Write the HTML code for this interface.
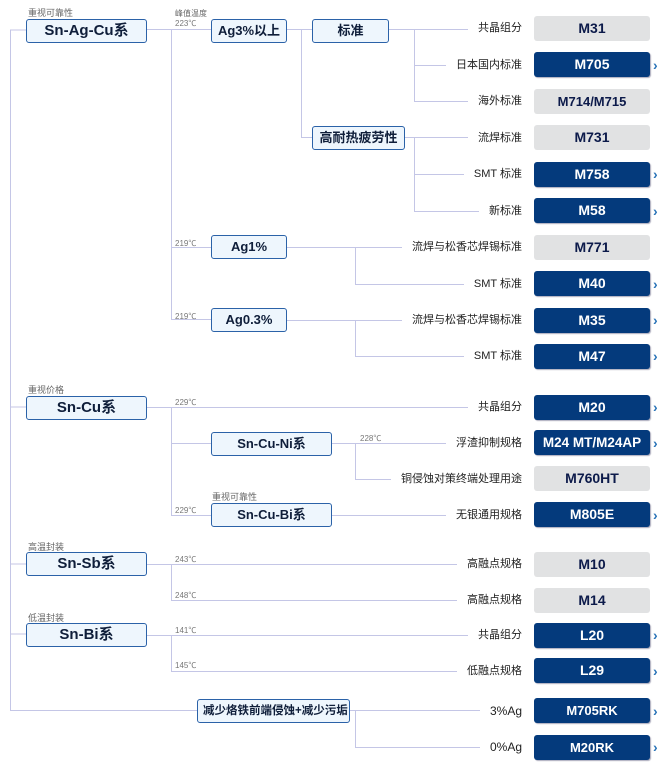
<!DOCTYPE html>
<html><head><meta charset="utf-8"><style>
body{margin:0;width:661px;height:766px;background:#fff;position:relative;overflow:hidden;font-family:"Liberation Sans","Noto Sans CJK SC",sans-serif}
.n{position:absolute;box-sizing:border-box;height:24px;border:1px solid #2b62a8;border-radius:3px;background:#eef6fd;color:#0f1e3a;font-weight:bold;text-align:center;line-height:22px;font-size:13px}
.big{font-size:15px}
.s{position:absolute;font-size:9px;color:#666;white-space:nowrap}
.t{position:absolute;font-size:8px;color:#777;white-space:nowrap}
.l{position:absolute;right:139px;font-size:11px;color:#222;background:#fff;padding-left:10px;line-height:14px;white-space:nowrap}
.p{position:absolute;left:534px;width:116px;height:25px;border-radius:3px;text-align:center;line-height:25px;font-weight:bold;font-size:14px;box-sizing:border-box}
.d{background:#043a7c;color:#fff;box-shadow:1px 1px 1px #aab}
.g{background:#e1e2e3;color:#0c1a4a}
.a{position:absolute;left:653px;color:#2a74b8;font-size:14px;font-weight:bold;line-height:14px}
</style></head><body>
<svg width="661" height="766" style="position:absolute;left:0;top:0" stroke="#c4c6e6" stroke-width="1" fill="none">
<path d="M10.5 30V711M10 30H26M10 407H26M10 564H26M10 634H26M10 710.5H197"/>
<path d="M147 29.5H211M171.5 29.5V320M171 247.5H211M171 319.5H211"/>
<path d="M287 29.5H312M301.5 29.5V137M301 137.5H312"/>
<path d="M389 29.5H522M414.5 29.5V101M414 65.5H522M414 101.5H522"/>
<path d="M405 137.5H522M414.5 137.5V211M414 174.5H522M414 211.5H522"/>
<path d="M287 247.5H522M355.5 247.5V284M355 284.5H522"/>
<path d="M287 320.5H522M355.5 320.5V356M355 356.5H522"/>
<path d="M147 407.5H522M171.5 407.5V515M171 443.5H211M171 515.5H211"/>
<path d="M332 443.5H522M355.5 443.5V479M355 479.5H522M332 515.5H522"/>
<path d="M147 564.5H522M171.5 564.5V600M171 600.5H522"/>
<path d="M147 635.5H522M171.5 635.5V671M171 671.5H522"/>
<path d="M350 710.5H522M355.5 710.5V747M355 747.5H522"/>
</svg>
<div class="s" style="left:28px;top:6px">重视可靠性</div>
<div class="n big" style="left:26px;top:19px;width:121px">Sn-Ag-Cu系</div>
<div class="s" style="left:28px;top:383px">重视价格</div>
<div class="n big" style="left:26px;top:396px;width:121px">Sn-Cu系</div>
<div class="s" style="left:28px;top:540px">高温封装</div>
<div class="n big" style="left:26px;top:552px;width:121px">Sn-Sb系</div>
<div class="s" style="left:28px;top:611px">低温封装</div>
<div class="n big" style="left:26px;top:623px;width:121px">Sn-Bi系</div>
<div class="n" style="left:197px;top:699px;width:153px;font-size:11.5px;text-align:left;padding-left:5px">减少烙铁前端侵蚀+减少污垢</div>

<div class="s" style="left:175px;top:8px;font-size:8px">峰值温度</div>
<div class="t" style="left:175px;top:18px">223℃</div>
<div class="n" style="left:211px;top:19px;width:76px">Ag3%以上</div>
<div class="t" style="left:175px;top:238px">219℃</div>
<div class="n" style="left:211px;top:235px;width:76px">Ag1%</div>
<div class="t" style="left:175px;top:311px">219℃</div>
<div class="n" style="left:211px;top:308px;width:76px">Ag0.3%</div>
<div class="n" style="left:312px;top:19px;width:77px">标准</div>
<div class="n" style="left:312px;top:126px;width:93px">高耐热疲劳性</div>

<div class="t" style="left:175px;top:397px">229℃</div>
<div class="n" style="left:211px;top:432px;width:121px">Sn-Cu-Ni系</div>
<div class="t" style="left:360px;top:433px">228℃</div>
<div class="s" style="left:212px;top:490px">重视可靠性</div>
<div class="t" style="left:175px;top:505px">229℃</div>
<div class="n" style="left:211px;top:503px;width:121px">Sn-Cu-Bi系</div>
<div class="t" style="left:175px;top:554px">243℃</div>
<div class="t" style="left:175px;top:590px">248℃</div>
<div class="t" style="left:175px;top:625px">141℃</div>
<div class="t" style="left:175px;top:660px">145℃</div>

<div class="l" style="top:21px">共晶组分</div><div class="p g" style="top:16px">M31</div>
<div class="l" style="top:58px">日本国内标准</div><div class="p d" style="top:52px">M705</div><div class="a" style="top:58px">›</div>
<div class="l" style="top:94px">海外标准</div><div class="p g" style="top:89px;font-size:13px">M714/M715</div>
<div class="l" style="top:131px">流焊标准</div><div class="p g" style="top:125px">M731</div>
<div class="l" style="top:167px">SMT 标准</div><div class="p d" style="top:162px">M758</div><div class="a" style="top:167px">›</div>
<div class="l" style="top:204px">新标准</div><div class="p d" style="top:198px">M58</div><div class="a" style="top:204px">›</div>
<div class="l" style="top:240px">流焊与松香芯焊锡标准</div><div class="p g" style="top:235px">M771</div>
<div class="l" style="top:277px">SMT 标准</div><div class="p d" style="top:271px">M40</div><div class="a" style="top:277px">›</div>
<div class="l" style="top:313px">流焊与松香芯焊锡标准</div><div class="p d" style="top:308px">M35</div><div class="a" style="top:313px">›</div>
<div class="l" style="top:349px">SMT 标准</div><div class="p d" style="top:344px">M47</div><div class="a" style="top:349px">›</div>
<div class="l" style="top:400px">共晶组分</div><div class="p d" style="top:395px">M20</div><div class="a" style="top:400px">›</div>
<div class="l" style="top:436px">浮渣抑制规格</div><div class="p d" style="top:430px;font-size:13.5px">M24 MT/M24AP</div><div class="a" style="top:436px">›</div>
<div class="l" style="top:472px">铜侵蚀对策终端处理用途</div><div class="p g" style="top:466px">M760HT</div>
<div class="l" style="top:508px">无银通用规格</div><div class="p d" style="top:502px">M805E</div><div class="a" style="top:508px">›</div>
<div class="l" style="top:557px">高融点规格</div><div class="p g" style="top:552px">M10</div>
<div class="l" style="top:593px">高融点规格</div><div class="p g" style="top:588px">M14</div>
<div class="l" style="top:628px">共晶组分</div><div class="p d" style="top:623px">L20</div><div class="a" style="top:628px">›</div>
<div class="l" style="top:664px">低融点规格</div><div class="p d" style="top:658px">L29</div><div class="a" style="top:664px">›</div>
<div class="l" style="top:704px;font-size:12px">3%Ag</div><div class="p d" style="top:698px;font-size:13px">M705RK</div><div class="a" style="top:704px">›</div>
<div class="l" style="top:740px;font-size:12px">0%Ag</div><div class="p d" style="top:735px;font-size:13px">M20RK</div><div class="a" style="top:740px">›</div>
</body></html>
